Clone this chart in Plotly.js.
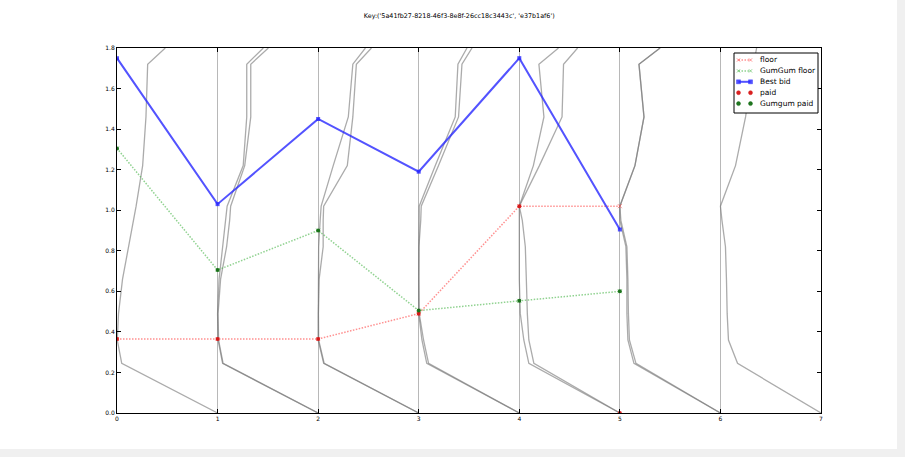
<!DOCTYPE html>
<html>
<head>
<meta charset="utf-8">
<script src="https://cdn.plot.ly/plotly-3.0.1.min.js"></script>
<style>
  html, body { margin: 0; padding: 0; background: #f0f0f0; }
  #chart { width: 897px; height: 449px; background: #ffffff; }
</style>
</head>
<body>
<div id="chart"></div>
<script>
// Auction steps along the x axis
const steps = [0, 1, 2, 3, 4, 5];

// Price series per step
const floorPrice   = [0.365, 0.365, 0.365, 0.49, 1.02, 1.02];
const gumgumFloor  = [1.305, 0.705, 0.90, 0.505, 0.553, 0.60];
const bestBid      = [1.75, 1.03, 1.45, 1.19, 1.75, 0.905];
const paid         = [0.365, 0.365, 0.365, 0.49, 1.02, 0.0];
const gumgumPaid   = [1.305, 0.705, 0.90, 0.505, 0.553, 0.60];

const seriesNames = ['floor', 'GumGum floor', 'Best bid', 'paid', 'Gumgum paid'];

// Bid-distribution profiles: price levels and horizontal spread at each level
const profileLevels = [0, 0.245, 0.36, 0.49, 0.66, 0.82, 0.95, 1.02, 1.22, 1.46, 1.72, 1.8];
const profileBase   = [0, 1, 1, 2, 2, 3, 3, 4, 4, 5, 5, 6];
const profileSpread = [
  [1, 0.047, 0.003, 0.015, 0.055, 0.115, 0.165, 0.19, 0.255, 0.288, 0.305, 0.48],
  [1, 0.05, 0.005, 0.0, 0.015, 0.05, 0.08, 0.095, 0.255, 0.29, 0.29, 0.455],
  [1, 0.055, 0.01, 0.005, 0.03, 0.09, 0.12, 0.13, 0.27, 0.33, 0.33, 0.505],
  [1, 0.055, 0.0, 0.0, 0.0, 0.005, 0.02, 0.03, 0.15, 0.30, 0.345, 0.47],
  [1, 0.06, 0.005, 0.003, 0.01, 0.05, 0.05, 0.055, 0.29, 0.345, 0.38, 0.53],
  [1, 0.08, 0.032, 0.0, 0.0, 0.0, 0.003, 0.005, 0.165, 0.363, 0.39, 0.48],
  [1, 0.098, 0.048, 0.005, 0.002, 0.002, 0.02, 0.025, 0.197, 0.396, 0.43, 0.53],
  [1, 0.095, 0.045, 0.01, 0.0, 0.0, 0.0, 0.0, 0.14, 0.245, 0.195, 0.39],
  [1, 0.145, 0.095, 0.08, 0.07, 0.06, 0.03, 0.0, 0.2, 0.425, 0.44, 0.58],
  [1, 0.14, 0.08, 0.07, 0.07, 0.06, 0.0, 0.0, 0.15, 0.24, 0.19, 0.40],
  [1, 0.16, 0.095, 0.085, 0.08, 0.07, 0.01, 0.0, 0.15, 0.24, 0.19, 0.40],
  [1, 0.17, 0.08, 0.067, 0.06, 0.05, 0.015, 0.0, 0.15, 0.25, 0.33, 0.36]
];

const xTicks = [0, 1, 2, 3, 4, 5, 6, 7];
const yTicks = [0, 0.2, 0.4, 0.6, 0.8, 1.0, 1.2, 1.4, 1.6, 1.8];

const FONT = 'DejaVu Sans, Liberation Sans, sans-serif';

// Series styles
const RED_LINE = 'rgba(255,70,70,0.6)';
const GREEN_LINE = 'rgba(70,180,70,0.6)';
const BLUE = 'rgba(40,40,255,0.8)';
const RED_DOT = 'rgba(215,20,20,0.95)';
const GREEN_DOT = 'rgba(20,110,20,0.95)';
const DOTTED = '1.5px,1.5px';

const traces = [];

profileSpread.forEach((spread, i) => {
  traces.push({
    x: spread.map(s => profileBase[i] + s),
    y: profileLevels,
    type: 'scatter',
    mode: 'lines',
    line: { color: 'rgba(120,120,120,0.62)', width: 1.3 },
    showlegend: false,
    hoverinfo: 'skip'
  });
});

traces.push({
  x: steps, y: floorPrice, name: seriesNames[0], type: 'scatter', mode: 'lines+markers',
  line: { color: RED_LINE, width: 1.5, dash: DOTTED },
  marker: { symbol: 'x-thin-open', size: 4, color: RED_LINE, line: { width: 1, color: RED_LINE } }
});
traces.push({
  x: steps, y: gumgumFloor, name: seriesNames[1], type: 'scatter', mode: 'lines+markers',
  line: { color: GREEN_LINE, width: 1.5, dash: DOTTED },
  marker: { symbol: 'x-thin-open', size: 4, color: GREEN_LINE, line: { width: 1, color: GREEN_LINE } }
});
traces.push({
  x: steps, y: bestBid, name: seriesNames[2], type: 'scatter', mode: 'lines+markers',
  line: { color: BLUE, width: 2 },
  marker: { symbol: 'square', size: 4, color: BLUE }
});
traces.push({
  x: steps, y: paid, name: seriesNames[3], type: 'scatter', mode: 'markers',
  marker: { symbol: 'circle', size: 4, color: RED_DOT }
});
traces.push({
  x: steps, y: gumgumPaid, name: seriesNames[4], type: 'scatter', mode: 'markers',
  marker: { symbol: 'circle', size: 4, color: GREEN_DOT }
});

// Compact legend box built from shapes and annotations (paper coordinates)
const PLOT = { left: 117, right: 821, top: 48, bottom: 413 };
const px2x = px => (px - PLOT.left) / (PLOT.right - PLOT.left);
const py2y = py => (PLOT.bottom - py) / (PLOT.bottom - PLOT.top);

const legendBox = { x0: 734, x1: 818, y0: 53, y1: 113 };
const legendRow0 = 60, legendRowStep = 10.9;
const sampleX0 = 738.5, sampleX1 = 750.5, labelX = 758;

const legendStyles = [
  { line: RED_LINE, dash: 'dot', mark: 'x', color: RED_LINE },
  { line: GREEN_LINE, dash: 'dot', mark: 'x', color: GREEN_LINE },
  { line: BLUE, dash: 'solid', mark: 'square', color: BLUE },
  { line: null, mark: 'circle', color: RED_DOT },
  { line: null, mark: 'circle', color: GREEN_DOT }
];

const shapes = [{
  type: 'rect', xref: 'paper', yref: 'paper',
  x0: px2x(legendBox.x0), x1: px2x(legendBox.x1),
  y0: py2y(legendBox.y1), y1: py2y(legendBox.y0),
  line: { color: '#000000', width: 1 }, fillcolor: '#ffffff', opacity: 1, layer: 'above'
}];
const annotations = [];

seriesNames.forEach((name, i) => {
  const st = legendStyles[i];
  const yy = py2y(legendRow0 + i * legendRowStep);
  if (st.line) {
    shapes.push({
      type: 'line', xref: 'paper', yref: 'paper',
      x0: px2x(sampleX0), x1: px2x(sampleX1), y0: yy, y1: yy,
      line: { color: st.line, width: st.dash === 'solid' ? 2 : 1.5, dash: st.dash === 'solid' ? 'solid' : DOTTED },
      layer: 'above'
    });
  }
  [sampleX0, sampleX1].forEach(sx => {
    const base = {
      xref: 'paper', yref: 'paper', xsizemode: 'pixel', ysizemode: 'pixel',
      xanchor: px2x(sx), yanchor: yy, layer: 'above'
    };
    if (st.mark === 'x') {
      shapes.push(Object.assign({ type: 'line', x0: -1.6, x1: 1.6, y0: -1.6, y1: 1.6, line: { color: st.color, width: 1 } }, base));
      shapes.push(Object.assign({ type: 'line', x0: -1.6, x1: 1.6, y0: 1.6, y1: -1.6, line: { color: st.color, width: 1 } }, base));
    } else {
      shapes.push(Object.assign({
        type: st.mark === 'square' ? 'rect' : 'circle',
        x0: -2, x1: 2, y0: -2, y1: 2,
        fillcolor: st.color, line: { color: st.color, width: 0.5 }
      }, base));
    }
  });
  annotations.push({
    xref: 'paper', yref: 'paper', x: px2x(labelX), y: yy,
    xanchor: 'left', yanchor: 'middle', showarrow: false,
    text: name, font: { family: FONT, size: 7.5, color: '#000000' }
  });
});

const layout = {
  width: 897,
  height: 449,
  paper_bgcolor: '#ffffff',
  plot_bgcolor: '#ffffff',
  margin: { l: 117, r: 76, t: 48, b: 36 },
  font: { family: FONT, size: 6, color: '#000000' },
  title: {
    text: "Key:('5a41fb27-8218-46f3-8e8f-26cc18c3443c', 'e37b1af6')",
    font: { family: FONT, size: 6.4, color: '#000000' },
    x: 0.512, xref: 'container', xanchor: 'center',
    y: 0.965, yref: 'container', yanchor: 'middle'
  },
  xaxis: {
    range: [0, 7],
    tickvals: xTicks,
    ticktext: xTicks.map(String),
    ticks: 'inside', ticklen: 4, tickcolor: '#000',
    showline: true, linecolor: '#000', linewidth: 1, mirror: 'ticks',
    showgrid: true, gridcolor: '#b8b8b8', gridwidth: 1,
    zeroline: false,
    tickfont: { family: FONT, size: 6 }
  },
  yaxis: {
    range: [0, 1.8],
    tickvals: yTicks,
    ticktext: yTicks.map(v => v.toFixed(1)),
    ticks: 'inside', ticklen: 4, tickcolor: '#000',
    showline: true, linecolor: '#000', linewidth: 1, mirror: 'ticks',
    showgrid: false, zeroline: false,
    tickfont: { family: FONT, size: 6 }
  },
  shapes: shapes,
  annotations: annotations,
  showlegend: false
};

Plotly.newPlot('chart', traces, layout, { displayModeBar: false, staticPlot: true });
</script>
</body>
</html>
